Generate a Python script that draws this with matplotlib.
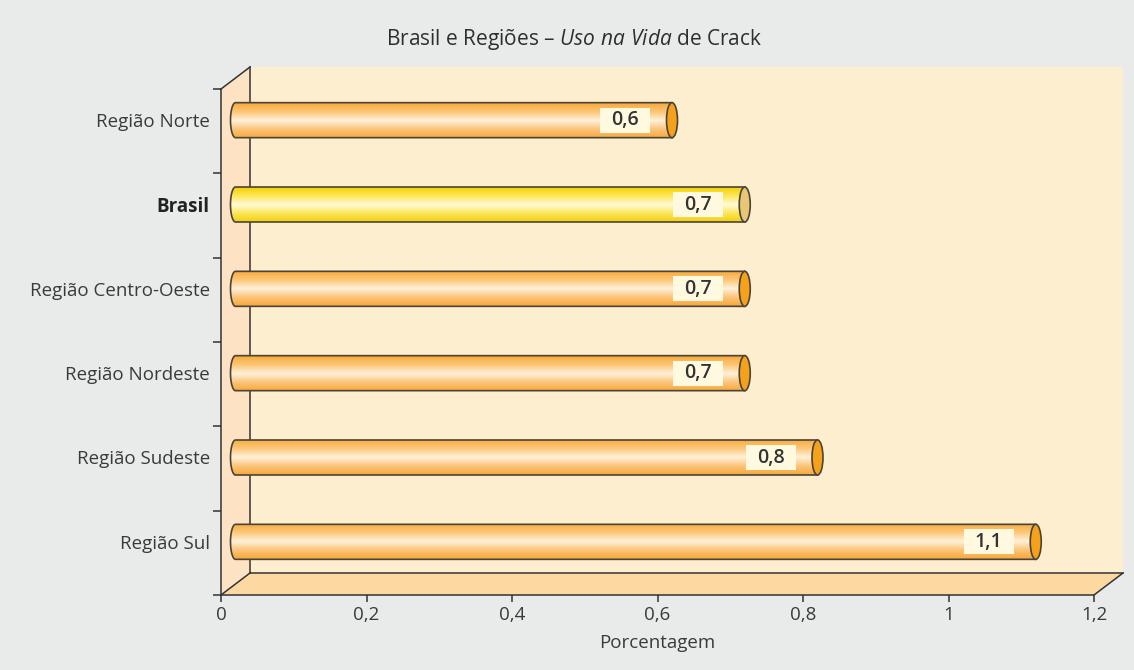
import numpy as np
import matplotlib
matplotlib.use("Agg")
import matplotlib.pyplot as plt
from matplotlib.patches import Polygon, Ellipse, Rectangle
from matplotlib.colors import LinearSegmentedColormap

plt.rcParams['font.family'] = ['Open Sans', 'DejaVu Sans']
plt.rcParams['mathtext.fontset'] = 'custom'
plt.rcParams['mathtext.rm'] = 'Open Sans'
plt.rcParams['mathtext.it'] = 'Open Sans:italic'

# dados (de cima para baixo)
regioes = ['Região Norte', 'Brasil', 'Região Centro-Oeste', 'Região Nordeste',
           'Região Sudeste', 'Região Sul']
valores = [0.6, 0.7, 0.7, 0.7, 0.8, 1.1]
rotulos = ['0,6', '0,7', '0,7', '0,7', '0,8', '1,1']
xticks = [0, 0.2, 0.4, 0.6, 0.8, 1.0, 1.2]
xticklabels = ['0', '0,2', '0,4', '0,6', '0,8', '1', '1,2']

W, H = 1134, 670
fig = plt.figure(figsize=(W / 100, H / 100), dpi=100)
fig.patch.set_facecolor('#e9ebea')

# eixo frontal em pixels
xl, xr, yb, yt = 221, 1094, 595, 89
ax = fig.add_axes([xl / W, (H - yb) / H, (xr - xl) / W, (yb - yt) / H])
ax.set_facecolor('none')
ax.set_xlim(0, 1.2)
n = len(regioes)
ax.set_ylim(0, n)

pxx = (xr - xl) / 1.2
pxy = (yb - yt) / n
dx = 29 / pxx
dy = 22 / pxy
ink = '#333333'
fs = 13.5

# paredes 3D
back = Polygon([(dx, dy), (1.2 + dx, dy), (1.2 + dx, n + dy), (dx, n + dy)],
               closed=True, fc='#feeed0', ec='none', clip_on=False, zorder=0)
floor = Polygon([(0, 0), (1.2, 0), (1.2 + dx, dy), (dx, dy)], closed=True,
                fc='#fdd9a2', ec='none', clip_on=False, zorder=0.5)
wall = Polygon([(0, 0), (dx, dy), (dx, n + dy), (0, n)], closed=True,
               fc='#fde2c4', ec='none', clip_on=False, zorder=0.5)
for p in (back, floor, wall):
    ax.add_patch(p)
lk = dict(color=ink, lw=1.1, clip_on=False, zorder=1)
ax.plot([dx, 1.2 + dx], [dy, dy], **lk)
ax.plot([dx, dx], [dy, n + dy], **lk)
ax.plot([0, dx], [n, n + dy], **lk)
ax.plot([0, dx], [0, dy], **lk)
ax.plot([1.2, 1.2 + dx], [0, dy], **lk)

cm_laranja = LinearSegmentedColormap.from_list('lar', [
    (0.0, '#f7a83a'), (0.25, '#fcc47a'), (0.5, '#fff1da'),
    (0.75, '#fdc677'), (1.0, '#f8aa3c')])
cm_amarelo = LinearSegmentedColormap.from_list('ama', [
    (0.0, '#f2cf10'), (0.25, '#fce65a'), (0.5, '#fffbd8'),
    (0.75, '#fde75a'), (1.0, '#f3d000')])
grad = np.linspace(0, 1, 200).reshape(-1, 1)

h = 35 / pxy
rxl = 5 / pxx
rxc = 5.5 / pxx
x0 = dx / 2
contorno = '#4a4438'
for i, (reg, v, rot) in enumerate(zip(regioes, valores, rotulos)):
    yc = n - 1 - i + 0.5 + dy / 2
    x1 = v + x0
    t = np.linspace(np.pi / 2, 3 * np.pi / 2, 40)
    pts = list(zip(x0 + rxl * np.cos(t), yc + h / 2 * np.sin(t)))
    pts += [(x1, yc - h / 2), (x1, yc + h / 2)]
    body = Polygon(pts, closed=True, fc='none', ec=contorno, lw=1.2, zorder=3)
    ax.add_patch(body)
    cmap = cm_amarelo if reg == 'Brasil' else cm_laranja
    im = ax.imshow(grad, cmap=cmap, origin='lower', aspect='auto',
                   extent=[x0 - rxl, x1, yc - h / 2, yc + h / 2],
                   interpolation='bilinear', zorder=2)
    im.set_clip_path(body)
    cap = '#e8c676' if reg == 'Brasil' else '#f6a11a'
    ax.add_patch(Ellipse((x1, yc), 2 * rxc, h, fc=cap, ec=contorno, lw=1.2,
                         zorder=4))
    bw, bh = 50 / pxx, 25 / pxy
    bx = x1 - 47 / pxx
    ax.add_patch(Rectangle((bx - bw / 2, yc - bh / 2), bw, bh, fc='#fffadf',
                           ec='none', zorder=5))
    ax.text(bx, yc, rot, ha='center', va='center', fontsize=14,
            fontweight='semibold', color='#333333', zorder=6)

ax.set_xlim(0, 1.2)
ax.set_ylim(0, n)

# eixos
for s in ('top', 'right'):
    ax.spines[s].set_visible(False)
for s in ('left', 'bottom'):
    ax.spines[s].set_color(ink)
    ax.spines[s].set_linewidth(1.1)
    ax.spines[s].set_zorder(1)
ax.set_xticks(xticks)
ax.set_xticklabels(xticklabels)
ax.tick_params(axis='x', direction='out', length=5, width=1.1, color=ink,
               labelsize=fs, labelcolor='#3a3a3a', pad=3)
ax.set_yticks([n - 1 - i + 0.5 + dy / 2 for i in range(n)])
ax.set_yticklabels(regioes)
ax.set_yticks(range(0, n + 1), minor=True)
ax.tick_params(axis='y', which='major', length=0, pad=8, labelsize=fs,
               labelcolor='#3a3a3a')
ax.tick_params(axis='y', which='minor', direction='out', length=6, width=1.1,
               color=ink)
for lb in ax.get_yticklabels():
    if lb.get_text() == 'Brasil':
        lb.set_fontweight('bold')
        lb.set_color('#222222')

ax.set_xlabel('Porcentagem', fontsize=fs, color='#3a3a3a')
ax.xaxis.set_label_coords(0.5, -(643 - yb) / (yb - yt))
ax.xaxis.label.set_va('center')

fig.text(574 / W, 1 - 39 / H,
         r'Brasil e Regiões – $\mathit{Uso\ na\ Vida}$ de Crack',
         ha='center', va='center', fontsize=15, color='#2e2e2e')

fig.savefig('out.png', dpi=100, facecolor=fig.get_facecolor())
